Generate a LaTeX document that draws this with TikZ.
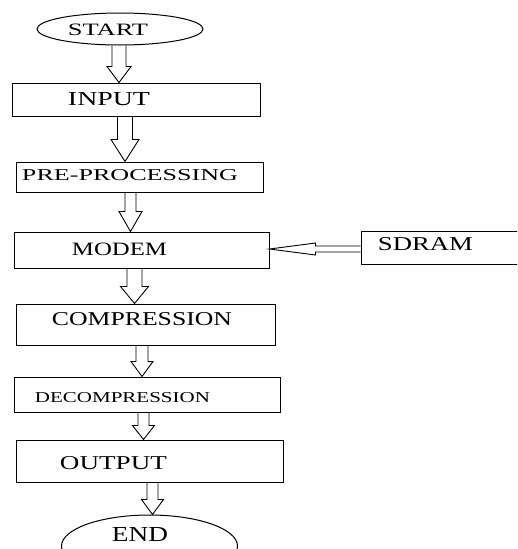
\documentclass[tikz,border=0pt]{standalone}
\usepackage{fontspec}
\setmainfont{Liberation Serif}
\usetikzlibrary{shapes.geometric,calc}
\tikzset{
  box/.style={draw, line width=1pt, rectangle, inner sep=0pt},
  oval/.style={draw, line width=1pt, ellipse, inner sep=0pt},
  lbl/.style={inner sep=0pt, anchor=center},
  fat/.style={draw, line width=0.9pt, line join=miter},
}
% vertical block arrow: from node, to node, x centre, shaft half width, head half width, head length
\newcommand\fatdown[6]{%
  \draw[fat] let \p1=(#1.south), \p2=(#2.north) in
    ({(#3-#4)*1pt},\y1) -- ({(#3-#4)*1pt},{\y2+#6pt}) -- ({(#3-#5)*1pt},{\y2+#6pt})
    -- ({#3*1pt},\y2) -- ({(#3+#5)*1pt},{\y2+#6pt}) -- ({(#3+#4)*1pt},{\y2+#6pt})
    -- ({(#3+#4)*1pt},\y1);}
% horizontal block arrow pointing left: from node, to node, y centre, shaft half width, head half width, head length
\newcommand\fatleft[6]{%
  \draw[fat] let \p1=(#1.west), \p2=(#2.east) in
    (\x1,{-(#3-#4)*1pt}) -- ({\x2+#6pt},{-(#3-#4)*1pt}) -- ({\x2+#6pt},{-(#3-#5)*1pt})
    -- (\x2,{-#3*1pt}) -- ({\x2+#6pt},{-(#3+#5)*1pt}) -- ({\x2+#6pt},{-(#3+#4)*1pt})
    -- (\x1,{-(#3+#4)*1pt});}
\begin{document}
\begin{tikzpicture}[x=1pt,y=-1pt]
\useasboundingbox (0,0) rectangle (517,549);
\clip (0,0) rectangle (517,549);
\fill[white] (0,0) rectangle (517,549);

\node[oval, minimum width=166pt, minimum height=32pt] (start) at (120,29) {};
\node[box, minimum width=248pt, minimum height=33pt] (input) at (136,99.5) {};
\node[box, minimum width=247pt, minimum height=30pt] (pre) at (139.5,177) {};
\node[box, minimum width=255pt, minimum height=36pt] (modem) at (141.5,250) {};
\node[box, minimum width=164pt, minimum height=33pt] (sdram) at (443,247.5) {};
\node[box, minimum width=259pt, minimum height=41pt] (comp) at (145.5,324.5) {};
\node[box, minimum width=266pt, minimum height=35pt] (decomp) at (147,394.5) {};
\node[box, minimum width=267pt, minimum height=42pt] (output) at (149.5,461) {};
\node[oval, minimum width=176pt, minimum height=62pt] (end) at (149.5,546) {};

\node[lbl] (startt) at (108,29.5) {\resizebox{80pt}{11.5pt}{START}};
\node[lbl] (inputt) at (109,99.5) {\resizebox{82pt}{13pt}{INPUT}};
\node[lbl] (pret) at (130,175.5) {\resizebox{216pt}{11pt}{PRE-PROCESSING}};
\node[lbl] (modemt) at (119.5,249.5) {\resizebox{95pt}{12.5pt}{MODEM}};
\node[lbl] (sdramt) at (425.5,244.5) {\resizebox{95pt}{13pt}{SDRAM}};
\node[lbl] (compt) at (142,319.5) {\resizebox{180pt}{13pt}{COMPRESSION}};
\node[lbl] (decompt) at (122.5,398) {\resizebox{175pt}{10pt}{DECOMPRESSION}};
\node[lbl] (outputt) at (113.5,463.5) {\resizebox{107pt}{13pt}{OUTPUT}};
\node[lbl] (endt) at (140,535) {\resizebox{56pt}{14pt}{END}};

\fatdown{start}{input}{119}{7}{12}{16}
\fatdown{input}{pre}{125}{7.5}{14}{22}
\fatdown{pre}{modem}{130.5}{5.5}{11.5}{20}
\fatdown{modem}{comp}{134.5}{7.5}{14}{17}
\fatdown{comp}{decomp}{142}{6}{11}{15}
\fatdown{decomp}{output}{143.5}{5.5}{11}{14}
\fatdown{output}{end}{152.5}{5.5}{11}{15}
\fatleft{sdram}{modem}{249}{3}{6}{46}
\end{tikzpicture}
\end{document}
